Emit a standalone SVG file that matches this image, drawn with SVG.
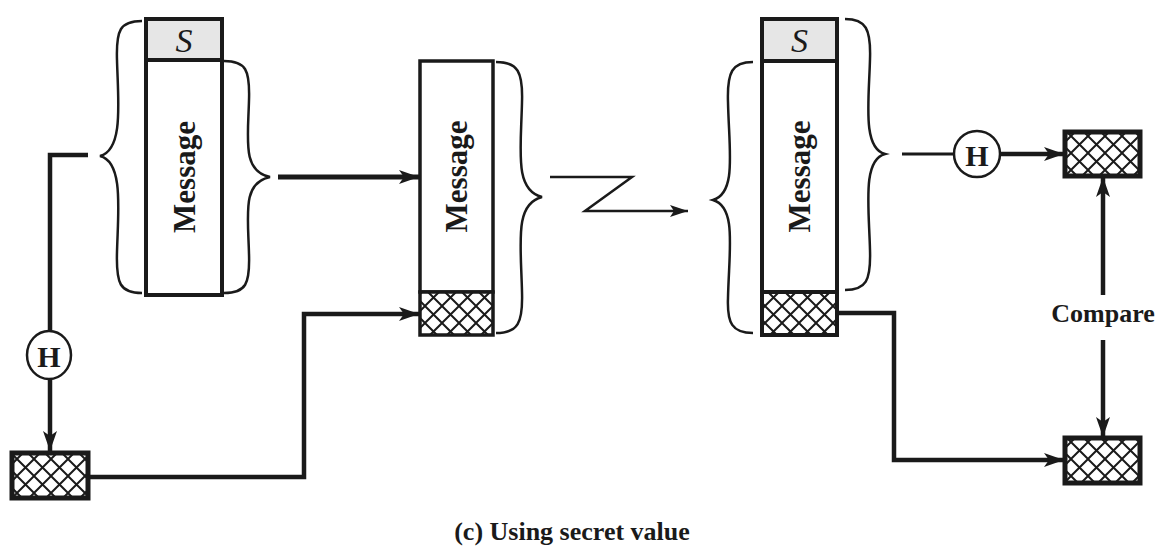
<svg xmlns="http://www.w3.org/2000/svg" width="1164" height="555" viewBox="0 0 1164 555">
<style>
.blk{fill:#fff;stroke:#1a1a1a;stroke-width:4}
.sbox{fill:#e6e6e6;stroke:#1a1a1a;stroke-width:4}
.hash{fill:url(#xh);stroke:#1a1a1a;stroke-width:5}
.brace{fill:none;stroke:#1a1a1a;stroke-width:2.5}
.con{fill:none;stroke:#1a1a1a;stroke-width:4.5}
.thin{fill:none;stroke:#1a1a1a;stroke-width:2.5}
.msg{font-family:"Liberation Serif",serif;font-weight:bold;font-size:31px;fill:#1a1a1a}
.s{font-family:"Liberation Serif",serif;font-style:italic;font-size:34px;fill:#1a1a1a}
.h{font-family:"Liberation Serif",serif;font-weight:bold;font-size:30px;fill:#1a1a1a}
.lbl{font-family:"Liberation Serif",serif;font-weight:bold;font-size:26px;fill:#1a1a1a}
.circ{fill:#fff;stroke:#1a1a1a;stroke-width:2.5}
</style>
<defs>
<pattern id="xh" width="17" height="17" patternUnits="userSpaceOnUse">
<rect width="17" height="17" fill="#fff"/>
<path d="M0,0 L17,17 M17,0 L0,17 M-2,15 L2,19 M15,-2 L19,2 M15,19 L19,15 M-2,2 L2,-2" stroke="#1a1a1a" stroke-width="2"/>
</pattern>
<marker id="ah" markerUnits="userSpaceOnUse" markerWidth="22" markerHeight="16" refX="20" refY="7" orient="auto">
<path d="M0,0 L20,7 L0,14 L5,7 z" fill="#1a1a1a"/>
</marker>
<marker id="ahs" markerUnits="userSpaceOnUse" markerWidth="20" markerHeight="14" refX="18" refY="6" orient="auto">
<path d="M0,0 L18,6 L0,12 L4,6 z" fill="#1a1a1a"/>
</marker>
</defs>

<g id="sender-block">
<rect class="sbox" x="146" y="19" width="76" height="41"/>
<text class="s" x="184" y="40" text-anchor="middle" dominant-baseline="central">S</text>
<rect class="blk" x="146" y="60" width="76" height="235"/>
<text class="msg" transform="translate(184,177) rotate(-90)" text-anchor="middle" dominant-baseline="central">Message</text>
<path class="brace" d="M142,21 C120,21 116,30 117,60 C118,100 124,150 100,156 C124,162 118,212 117,252 C116,284 120,293 142,293"/>
<path class="brace" d="M224,61 C246,61 250,70 249,100 C248,140 242,171 270,177 C242,183 248,214 249,254 C250,284 246,293 224,293"/>
</g>

<g id="sender-hash">
<ellipse class="circ" cx="49" cy="355" rx="22" ry="24"/>
<text class="h" x="49" y="356" text-anchor="middle" dominant-baseline="central">H</text>
<rect class="hash" x="12" y="453" width="76" height="45"/>
</g>

<g id="transmitted-block">
<rect class="blk" x="420" y="61" width="73" height="231" style="stroke-width:3.5"/>
<text class="msg" transform="translate(456.5,176.5) rotate(-90)" text-anchor="middle" dominant-baseline="central">Message</text>
<rect class="hash" x="420" y="292" width="73" height="43" style="stroke-width:3.5"/>
<path class="brace" d="M496,62 C518,62 523,72 522,102 C521,150 514,190 542,197 C514,204 521,244 522,292 C523,323 518,333 496,333"/>
</g>

<g id="receiver-block">
<rect class="sbox" x="762" y="19" width="75" height="42"/>
<text class="s" x="799.5" y="40" text-anchor="middle" dominant-baseline="central">S</text>
<rect class="blk" x="762" y="61" width="75" height="231"/>
<text class="msg" transform="translate(799.5,176.5) rotate(-90)" text-anchor="middle" dominant-baseline="central">Message</text>
<rect class="hash" x="762" y="292" width="75" height="43" style="stroke-width:4"/>
<path class="brace" d="M753,62 C732,62 727,72 728,102 C729,150 737,193 713,200 C737,207 729,250 728,298 C727,323 732,333 753,333"/>
<path class="brace" d="M845,19 C866,19 871,29 870,59 C869,100 862,148 885,154 C862,160 869,208 870,250 C871,281 866,290 845,290"/>
</g>

<g id="receiver-hash">
<circle class="circ" cx="977" cy="154" r="23"/>
<text class="h" x="977" y="155" text-anchor="middle" dominant-baseline="central">H</text>
<rect class="hash" x="1065" y="132" width="75" height="44"/>
</g>

<g id="received-hash">
<rect class="hash" x="1065" y="438" width="75" height="45"/>
</g>

<g id="compare-label">
<text class="lbl" x="1103" y="322" text-anchor="middle">Compare</text>
</g>

<g id="connectors">
<path class="con" d="M88,155 L50,155 L50,331"/>
<path class="con" d="M50,379 L50,451" marker-end="url(#ah)"/>
<path class="con" d="M88,477 L304,477 L304,314 L419,314" marker-end="url(#ah)"/>
<path class="con" d="M278,177 L419,177" style="stroke-width:5" marker-end="url(#ah)"/>
<path class="thin" d="M550,177 L632,177 L585,211 L688,211" marker-end="url(#ahs)"/>
<path class="con" d="M902,154 L954,154" style="stroke-width:3"/>
<path class="con" d="M1000,154 L1064,154" marker-end="url(#ah)"/>
<path class="con" d="M1103,295 L1103,177" marker-end="url(#ah)"/>
<path class="con" d="M1103,340 L1103,437" marker-end="url(#ah)"/>
<path class="con" d="M837,313 L894,313 L894,460 L1064,460" marker-end="url(#ah)"/>
</g>

<g id="caption">
<text class="lbl" x="572" y="540" text-anchor="middle">(c) Using secret value</text>
</g>
</svg>
